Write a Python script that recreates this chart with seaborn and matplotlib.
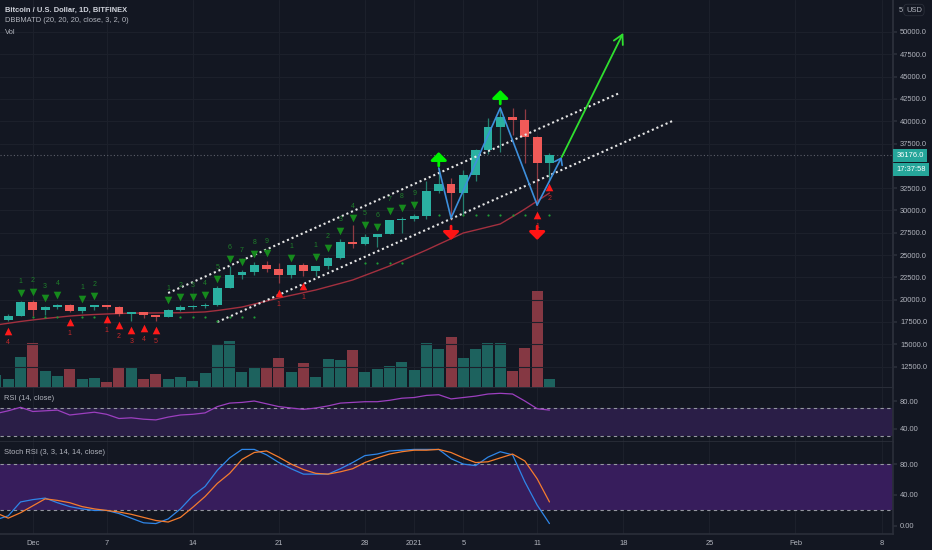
import numpy as np
import pandas as pd
import seaborn as sns
import matplotlib
matplotlib.use("Agg")
import matplotlib.pyplot as plt

# daily candles, index 0 = 2020-11-28 ... index 45 = 2021-01-12
dates = pd.date_range("2020-11-28", "2021-01-12", freq="D")
opens = [17500, 17740, 18190, 19700, 18780, 19220, 19440, 18680, 19160, 19380,
         19180, 18340, 18560, 18260, 18050, 18810, 19180, 19290, 19450, 21350,
         22800, 23120, 23860, 23480, 22740, 23830, 23250, 23720, 24700, 26450,
         26250, 27050, 27370, 28880, 29000, 29350, 32200, 33000, 31950, 33950,
         36800, 39400, 40500, 40150, 38200, 35300]
highs = [17900, 18350, 19880, 19920, 19320, 19560, 19520, 19180, 19420, 19420,
         19300, 18640, 18570, 18280, 18950, 19420, 19350, 19570, 21560, 23800,
         23300, 24200, 24300, 24100, 23850, 24100, 23780, 24750, 26850, 28400,
         27400, 27400, 28950, 29300, 29600, 33300, 34700, 33600, 34500, 36900,
         40400, 41600, 41450, 41350, 38300, 36400]
lows = [16900, 17550, 18180, 18200, 18330, 18900, 18600, 18520, 18870, 18900,
        18200, 17650, 17910, 17570, 18000, 18740, 19000, 19050, 19300, 21250,
        22350, 22800, 23100, 21900, 22400, 22700, 22700, 23450, 24500, 25800,
        26100, 25900, 27350, 27500, 28800, 29000, 32000, 28900, 29500, 33300,
        36300, 36500, 38450, 35300, 30600, 33400]
closes = [17740, 18190, 19700, 18780, 19220, 19440, 18680, 19160, 19380, 19180,
          18340, 18560, 18260, 18050, 18810, 19180, 19290, 19450, 21350, 22800,
          23120, 23860, 23480, 22740, 23830, 23250, 23720, 24700, 26450, 26250,
          27050, 27370, 28880, 29000, 29350, 32200, 33000, 31950, 33950, 36800,
          39400, 40500, 40150, 38200, 35300, 36176]
volume = [13, 9, 31, 45, 17, 12, 19, 9, 10, 6, 21, 21, 9, 14, 9, 11, 7, 15, 43, 47,
          16, 21, 21, 30, 16, 25, 11, 29, 28, 38, 16, 19, 22, 26, 18, 45, 39, 51, 30, 39,
          45, 45, 17, 40, 97, 9]
ma20 = [17150, 17350, 17550, 17720, 17880, 18020, 18160, 18260, 18330, 18390,
        18440, 18480, 18500, 18510, 18520, 18530, 18570, 18620, 18780, 18970,
        19170, 19500, 19840, 20180, 20480, 20780, 21080, 21450, 21820, 22200,
        22720, 23240, 23770, 24370, 24960, 25560, 26200, 26830, 27470, 27800,
        28140, 28480, 29300, 30150, 31050, 31950]
rsi = [62, 66, 71, 65, 66, 67, 60, 62, 64, 61, 55, 56, 54, 53, 57, 60, 61, 63, 72, 77,
       78, 80, 76, 72, 70, 68, 70, 73, 77, 78, 79, 79, 81, 84, 85, 88, 89, 83, 85, 87,
       90, 91, 90, 80, 69, 67]
stoch_k = [8, 13, 31, 34, 36, 30, 25, 22, 20, 20, 16, 10, 4, 3, 9, 22, 39, 51, 72, 88,
           99, 99, 92, 82, 74, 67, 67, 67, 74, 82, 91, 93, 97, 98, 99, 99, 99, 87, 80, 78,
           89, 96, 92, 57, 27, 3]
stoch_d = [17, 10, 17, 26, 35, 33, 30, 25, 22, 20, 18, 15, 11, 7, 5, 11, 24, 38, 55, 68,
           86, 95, 97, 89, 80, 73, 68, 67, 70, 74, 82, 88, 93, 96, 98, 98, 99, 95, 88, 82,
           83, 88, 93, 84, 61, 31]

# TD sequential marks
sell_idx = [2, 3, 4, 5, 7, 8, 14, 15, 16, 17, 18, 19, 20, 21, 22, 24, 26, 27, 28, 29, 30, 31, 32, 33, 34]
sell_cnt = [1, 2, 3, 4, 1, 2, 1, 2, 3, 4, 5, 6, 7, 8, 9, 1, 1, 2, 3, 4, 5, 6, 7, 8, 9]
sell_lvl = [20741, 20854, 20181, 20518, 20069, 20406, 19957, 20294, 20294, 20518, 22311, 24553,
            24217, 25113, 25226, 24665, 24777, 25786, 27692, 29149, 28365, 28140, 29934, 30270, 30607]
buy_idx = [1, 6, 9, 10, 11, 12, 13, 23, 25, 44, 45]
buy_cnt = [4, 1, 1, 2, 3, 4, 5, 1, 1, 1, 2]
buy_lvl = [16482, 17491, 17827, 17155, 16594, 16818, 16594, 20741, 21526, 29486, 32624]
dot_idx = [3, 4, 5, 7, 8, 15, 16, 17, 18, 19, 20, 21, 30, 31, 32, 33, 36, 38, 39, 40, 41, 42, 43, 45]
dot_lvl = [18050, 18050, 18050, 18050, 18050, 18050, 18050, 18050, 17600, 18050, 18050, 18050,
           24100, 24100, 24100, 24100, 29490, 29490, 29490, 29490, 29490, 29490, 29490, 29490]
up_idx, up_tip = [36, 41], [36548, 43498]
dn_idx, dn_tip = [37, 44], [26683, 26683]

# drawings
zz_x = [36, 37, 41, 44, 46]
zz_y = [34754, 29149, 41480, 30607, 35987]
target_x, target_y = [46, 51], [35987, 49900]
chan_hi_x, chan_hi_y = [14, 50.7], [20741, 43162]
chan_lo_x, chan_lo_y = [18, 55], [17491, 40023]

tick_pos = [3, 9, 16, 23, 30, 34, 38, 44, 51, 58, 65, 72]
tick_lab = ["Dec", "7", "14", "21", "28", "2021", "5", "11", "18", "25", "Feb", "8"]
price_ticks = [12500, 15000, 17500, 20000, 22500, 25000, 27500, 30000, 32500,
               37500, 40000, 42500, 45000, 47500, 50000]

BG = "#131722"
GRID = "#1c202b"
BORDER = "#2a2e39"
TXT = "#b2b5be"
UP = "#2ab0a1"
DOWN = "#f05a58"

sns.set_theme(style="dark")
plt.rcParams["font.family"] = ["Liberation Sans", "DejaVu Sans"]

W, H = 932, 550
fig = plt.figure(figsize=(W / 100, H / 100), dpi=100, facecolor=BG)


def rect(y0, y1):
    return [0, 1 - y1 / H, 893 / W, (y1 - y0) / H]


ax_vol = fig.add_axes(rect(0, 388))
ax = fig.add_axes(rect(0, 388), sharex=ax_vol)
ax_rsi = fig.add_axes(rect(388, 442), sharex=ax_vol)
ax_st = fig.add_axes(rect(442, 534), sharex=ax_vol)

day = np.arange(len(dates))
o, h, l, c = map(np.array, (opens, highs, lows, closes))
up = c >= o

for a in (ax_vol, ax, ax_rsi, ax_st):
    a.set_facecolor(BG)
    for s in ("top", "left"):
        a.spines[s].set_visible(False)
    a.spines["right"].set_color(BORDER)
    a.spines["bottom"].set_color(BORDER)
    a.tick_params(axis="x", labelbottom=False, length=0)
ax.set_facecolor("none")

ax_vol.set_xlim(0.33, 72.93)

# volume
vol_col = np.where(up, "#1d625e", "#853843")
ax_vol.bar(day, volume, width=0.9, color=vol_col, linewidth=0)
ax_vol.set_ylim(0, 388)
ax_vol.set_yticks([])
ax_vol.set_xticks(tick_pos)
ax_vol.grid(axis="x", color=GRID, lw=0.8)
ax_vol.grid(axis="y", visible=False)

# price panel
ax.set_ylim(10092, 53587)
ax.yaxis.tick_right()
ax.set_yticks(price_ticks)
ax.set_yticklabels([f"{t:.1f}" for t in price_ticks])
ax.tick_params(axis="y", colors=TXT, labelsize=5.4, length=3, color=BORDER, pad=2)
ax.grid(axis="y", color=GRID, lw=0.8)
ax.grid(axis="x", visible=False)
ax.set_axisbelow(True)

ax.axhline(closes[-1], color="#5d606b", ls=(0, (1, 2)), lw=0.8, zorder=1)
sns.lineplot(x=day, y=ma20, ax=ax, color="#a3303f", lw=1.0, zorder=2)

body_col = np.where(up, UP, DOWN)
wick_col = np.where(up, "#24806f", "#8f3b43")
ax.vlines(day, l, h, colors=wick_col, lw=0.9, zorder=3)
ax.bar(day, np.maximum(np.abs(c - o), 60), bottom=np.minimum(o, c), width=0.72,
       color=body_col, linewidth=0, zorder=4)

# channel
ax.plot(chan_hi_x, chan_hi_y, color="#e6e6e6", ls=(0, (1, 1.4)), lw=1.5, zorder=5)
ax.plot(chan_lo_x, chan_lo_y, color="#e6e6e6", ls=(0, (1, 1.4)), lw=1.5, zorder=5)

# TD marks
ax.scatter(dot_idx, dot_lvl, s=2.5, color="#1f9a35", zorder=5, linewidths=0)
ax.scatter(sell_idx, sell_lvl, marker="v", s=30, color="#168a1d", zorder=6, linewidths=0)
for i, n, p in zip(sell_idx, sell_cnt, sell_lvl):
    ax.annotate(str(n), (i, p), xytext=(0, 8.5), textcoords="offset points",
                ha="center", va="center", fontsize=5, color="#1f7f2a", zorder=6)
ax.scatter(buy_idx, buy_lvl, marker="^", s=30, color="#ff1a1a", zorder=6, linewidths=0)
for i, n, p in zip(buy_idx, buy_cnt, buy_lvl):
    ax.annotate(str(n), (i, p), xytext=(0, -8), textcoords="offset points",
                ha="center", va="center", fontsize=5, color="#c42a2a", zorder=6)

# zigzag and target arrow
ax.plot(zz_x[:-1], zz_y[:-1], color="#3d8fdc", lw=1.2, zorder=7)
ax.annotate("", xy=(zz_x[-1], zz_y[-1]), xytext=(zz_x[-2], zz_y[-2]),
            arrowprops=dict(arrowstyle="->,head_length=0.35,head_width=0.25", color="#3d8fdc",
                            lw=1.2, shrinkA=0, shrinkB=0), zorder=7)
ax.annotate("", xy=(target_x[1], target_y[1]), xytext=(target_x[0], target_y[0]),
            arrowprops=dict(arrowstyle="->,head_length=0.55,head_width=0.3", color="#2fe02f",
                            lw=1.3, shrinkA=0, shrinkB=0), zorder=7)

for i, p in zip(up_idx, up_tip):
    ax.annotate("", xy=(i, p), xytext=(0, -10), textcoords="offset points",
                arrowprops=dict(arrowstyle="-|>,head_length=0.4,head_width=0.4",
                                color="#00f000", lw=2.0, shrinkA=0, shrinkB=0), zorder=8)
for i, p in zip(dn_idx, dn_tip):
    ax.annotate("", xy=(i, p), xytext=(0, 10), textcoords="offset points",
                arrowprops=dict(arrowstyle="-|>,head_length=0.4,head_width=0.4",
                                color="#ff1414", lw=2.0, shrinkA=0, shrinkB=0), zorder=8)

# last price labels
ax.annotate(f"{closes[-1]:.1f}", xy=(1, closes[-1]), xycoords=("axes fraction", "data"),
            xytext=(2.5, 0), textcoords="offset points", ha="left", va="center",
            fontsize=5.4, color="white", annotation_clip=False,
            bbox=dict(boxstyle="square,pad=0.4", fc="#26a69a", ec="none"))
ax.annotate("17:37:58", xy=(1, closes[-1]), xycoords=("axes fraction", "data"),
            xytext=(2.5, -10), textcoords="offset points", ha="left", va="center",
            fontsize=5.4, color="white", annotation_clip=False,
            bbox=dict(boxstyle="square,pad=0.4", fc="#26a69a", ec="none"))

# RSI panel
ax_rsi.axhspan(30, 70, color="#2a1e47", lw=0)
for lvl in (70, 30):
    ax_rsi.axhline(lvl, color="#9598a1", ls=(0, (3, 3)), lw=0.8)
sns.lineplot(x=day, y=rsi, ax=ax_rsi, color="#9c3fbf", lw=0.9)
ax_rsi.set_ylim(21.4, 98.6)
ax_rsi.yaxis.tick_right()
ax_rsi.set_yticks([80, 40])
ax_rsi.set_yticklabels(["80.00", "40.00"])
ax_rsi.tick_params(axis="y", colors=TXT, labelsize=5.4, length=3, color=BORDER, pad=2)
ax_rsi.grid(axis="x", color=GRID, lw=0.8)
ax_rsi.grid(axis="y", visible=False)
ax_rsi.set_xlabel("")
ax_rsi.set_ylabel("")

# Stoch RSI panel
ax_st.axhspan(20, 80, color="#371d5c", lw=0)
for lvl in (80, 20):
    ax_st.axhline(lvl, color="#9598a1", ls=(0, (3, 3)), lw=0.8)
sns.lineplot(x=day, y=stoch_k, ax=ax_st, color="#2f86e8", lw=0.9)
sns.lineplot(x=day, y=stoch_d, ax=ax_st, color="#f57c2e", lw=0.9)
ax_st.set_ylim(-10.5, 108.6)
ax_st.yaxis.tick_right()
ax_st.set_yticks([80, 40, 0])
ax_st.set_yticklabels(["80.00", "40.00", "0.00"])
ax_st.tick_params(axis="y", colors=TXT, labelsize=5.4, length=3, color=BORDER, pad=2)
ax_st.grid(axis="x", color=GRID, lw=0.8)
ax_st.grid(axis="y", visible=False)
ax_st.set_xticks(tick_pos)
ax_st.set_xticklabels(tick_lab)
ax_st.tick_params(axis="x", labelbottom=True, colors=TXT, labelsize=5.4, length=0, pad=4)
ax_st.set_xlabel("")
ax_st.set_ylabel("")
ax_st.set_xlim(0.33, 72.93)
for a in (ax_vol, ax):
    a.set_xlabel("")
    a.set_ylabel("")


# header texts
def ftext(x, y, s, **kw):
    fig.text(x / W, 1 - y / H, s, va="center", **kw)


ftext(5, 10, "Bitcoin / U.S. Dollar, 1D, BITFINEX", fontsize=5.4, color="#d1d4dc", fontweight="bold")
ftext(5, 21, "DBBMATD (20, 20, 20, close, 3, 2, 0)", fontsize=5.4, color=TXT)
ftext(5, 32, "Vol", fontsize=5.4, color=TXT)
ftext(4, 399, "RSI (14, close)", fontsize=5.4, color=TXT)
ftext(4, 452, "Stoch RSI (3, 3, 14, 14, close)", fontsize=5.4, color=TXT)
ftext(899, 10, "5", fontsize=5.4, color=TXT)
ftext(906, 10, "USD", fontsize=5.4, color=TXT,
      bbox=dict(boxstyle="round,pad=0.3,rounding_size=0.5", fc=BG, ec=BORDER, lw=0.6))

fig.savefig("out.png", dpi=100, facecolor=BG)
